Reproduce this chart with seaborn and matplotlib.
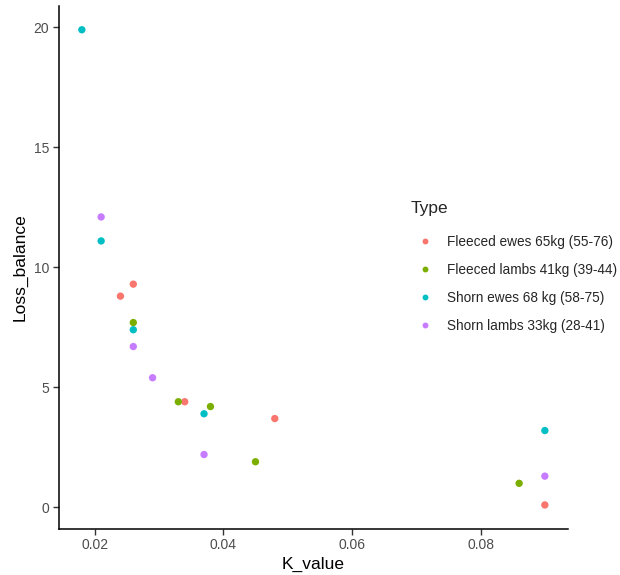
import matplotlib
matplotlib.use("Agg")
import matplotlib.pyplot as plt
import seaborn as sns
import pandas as pd

fleeced_ewes_k = [0.024, 0.026, 0.034, 0.048, 0.090]
fleeced_ewes_loss = [8.8, 9.3, 4.4, 3.7, 0.1]
fleeced_lambs_k = [0.026, 0.033, 0.038, 0.045, 0.086]
fleeced_lambs_loss = [7.7, 4.4, 4.2, 1.9, 1.0]
shorn_ewes_k = [0.018, 0.021, 0.026, 0.037, 0.090]
shorn_ewes_loss = [19.9, 11.1, 7.4, 3.9, 3.2]
shorn_lambs_k = [0.021, 0.026, 0.029, 0.037, 0.090]
shorn_lambs_loss = [12.1, 6.7, 5.4, 2.2, 1.3]

types = ["Fleeced ewes 65kg (55-76)", "Fleeced lambs 41kg (39-44)",
         "Shorn ewes 68 kg (58-75)", "Shorn lambs 33kg (28-41)"]
colors = ["#F8766D", "#7CAE00", "#00BFC4", "#C77CFF"]

ks = [fleeced_ewes_k, fleeced_lambs_k, shorn_ewes_k, shorn_lambs_k]
losses = [fleeced_ewes_loss, fleeced_lambs_loss, shorn_ewes_loss, shorn_lambs_loss]
rows = []
for t, kk, ll in zip(types, ks, losses):
    for k, l in zip(kk, ll):
        rows.append({"K_value": k, "Loss_balance": l, "Type": t})
df = pd.DataFrame(rows)

sns.set_style("white")
plt.rcParams['font.family'] = ['Liberation Sans', 'DejaVu Sans']

fig = plt.figure(figsize=(6.2, 5.75), dpi=100)
ax = fig.add_axes([58.7/620, 1 - 528.7/575, (568 - 58.7)/620, (528.7 - 6)/575])

sns.scatterplot(data=df, x="K_value", y="Loss_balance", hue="Type",
                hue_order=types, palette=colors, s=28, linewidth=0, ax=ax)

dr = 0.090 - 0.018
ax.set_xlim(0.018 - 0.05*dr, 0.090 + 0.05*dr)
yr = 19.9 - 0.1
ax.set_ylim(0.1 - 0.05*yr, 19.9 + 0.05*yr)
ax.set_xticks([0.02, 0.04, 0.06, 0.08])
ax.set_xticklabels(["0.02", "0.04", "0.06", "0.08"])
ax.set_yticks([0, 5, 10, 15, 20])

for s in ["top", "right"]:
    ax.spines[s].set_visible(False)
for s in ["left", "bottom"]:
    ax.spines[s].set_color("black")
    ax.spines[s].set_linewidth(1.1)
ax.tick_params(axis="both", which="both", direction="out", length=4, width=1,
               color="#333333", labelcolor="#4D4D4D", labelsize=10, pad=3,
               left=True, bottom=True)
ax.set_xlabel("K_value", fontsize=12.5, color="black", labelpad=3.5)
ax.set_ylabel("Loss_balance", fontsize=12.5, color="black", labelpad=4)

handles, labels = ax.get_legend_handles_labels()
leg = ax.legend(handles, labels, title="Type", frameon=False,
                loc="upper left", bbox_to_anchor=(405/620, 1 - 196/575),
                bbox_transform=fig.transFigure, fontsize=9.8,
                title_fontsize=12.5, labelspacing=1.04, handlelength=2.2,
                handletextpad=0.5, markerscale=0.8, borderaxespad=0)
leg._legend_box.align = "left"
leg._legend_box.sep = leg._legend_box.sep + 3

fig.savefig("out.png", dpi=100)
